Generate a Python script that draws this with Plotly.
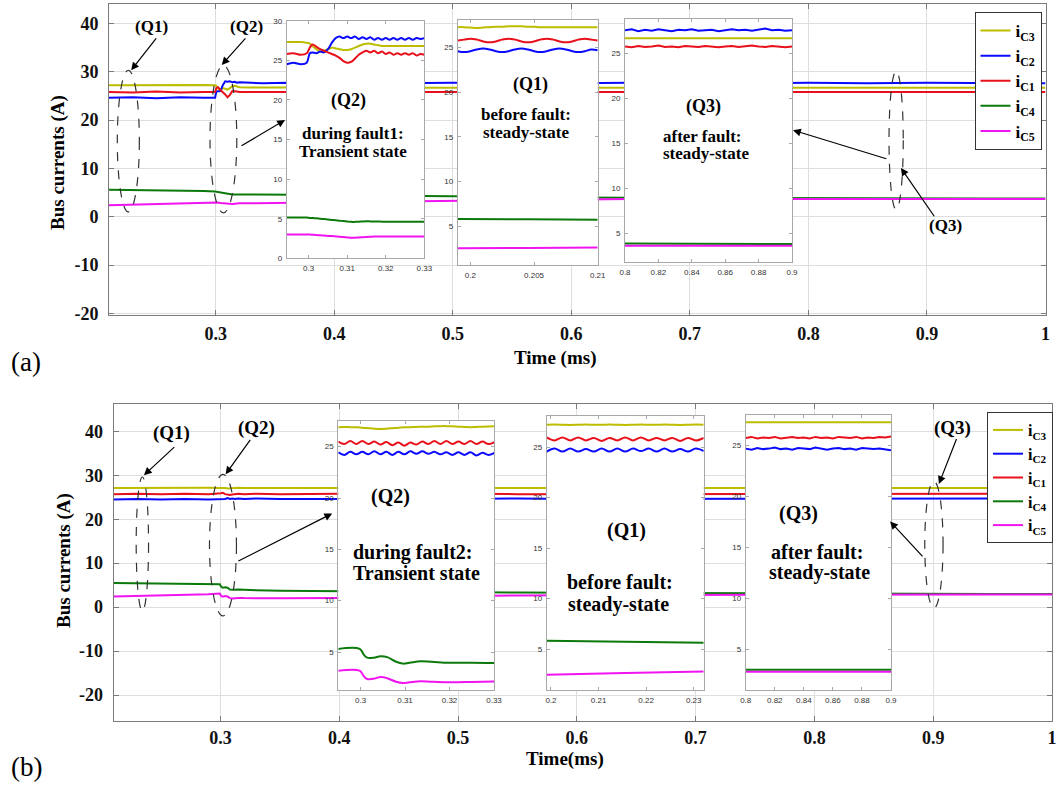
import plotly.graph_objects as go

W, H = 1059, 789

# ---------------- data ----------------
names = ["i<sub>C3</sub>", "i<sub>C2</sub>", "i<sub>C1</sub>", "i<sub>C4</sub>", "i<sub>C5</sub>"]

# panel (a) main
t_main_a = [0.21, 0.23, 0.25, 0.27, 0.29, 0.2995, 0.3005, 0.302, 0.304, 0.306, 0.308, 0.310, 0.312, 0.314, 0.316,
            0.318, 0.32, 0.33, 0.34, 0.36, 0.38, 0.40, 0.45, 0.50, 0.55, 0.60, 0.65, 0.70, 0.75, 0.80, 0.85, 0.90,
            0.95, 1.0]
iC3_a = [27.2, 27.25, 27.2, 27.2, 27.25, 27.2, 27.1, 26.5, 26.2, 26.6, 26.4, 26.3, 26.6, 27.0, 27.1, 26.9, 26.8,
         26.75, 26.7, 26.75, 26.7, 26.7, 26.7, 26.75, 26.7, 26.7, 26.7, 26.75, 26.7, 26.7, 26.7, 26.75, 26.7, 26.7]
iC2_a = [24.6, 24.7, 24.5, 24.7, 24.6, 24.6, 25.9, 26.0, 26.0, 27.2, 28.0, 27.9, 28.0, 27.8, 27.9, 27.7, 27.8,
         27.7, 27.6, 27.7, 27.6, 27.7, 27.6, 27.7, 27.6, 27.6, 27.7, 27.6, 27.6, 27.7, 27.6, 27.7, 27.6, 27.6]
iC1_a = [25.8, 25.7, 25.9, 25.7, 25.8, 25.8, 26.6, 26.8, 26.2, 25.8, 25.3, 24.7, 25.2, 26.0, 26.0, 25.9, 25.8,
         25.8, 25.7, 25.8, 25.7, 25.8, 25.7, 25.8, 25.7, 25.8, 25.7, 25.7, 25.8, 25.7, 25.8, 25.7, 25.7, 25.8]
iC4_a = [5.6, 5.55, 5.5, 5.4, 5.3, 5.2, 5.15, 5.1, 5.0, 4.9, 4.8, 4.7, 4.6, 4.6, 4.6, 4.6, 4.6,
         4.6, 4.6, 4.55, 4.5, 4.5, 4.35, 4.2, 4.1, 4.0, 3.95, 3.9, 3.85, 3.8, 3.8, 3.8, 3.8, 3.8]
iC5_a = [2.4, 2.5, 2.6, 2.7, 2.9, 3.0, 3.0, 2.95, 2.85, 2.8, 2.7, 2.65, 2.6, 2.65, 2.7, 2.75, 2.8,
         2.8, 2.85, 2.9, 2.95, 3.0, 3.15, 3.3, 3.45, 3.6, 3.65, 3.7, 3.7, 3.65, 3.65, 3.65, 3.65, 3.65]

# panel (a) inset Q2 (during fault1)
t_q2a = [0.2943, 0.296, 0.298, 0.2995, 0.3003, 0.301, 0.302, 0.303, 0.304, 0.305, 0.306, 0.307, 0.308, 0.309,
         0.310, 0.311, 0.312, 0.313, 0.314, 0.315, 0.316, 0.317, 0.318, 0.319, 0.320, 0.321, 0.322, 0.323,
         0.324, 0.325, 0.326, 0.327, 0.328, 0.329, 0.330]
q2a_C3 = [27.3, 27.3, 27.3, 27.2, 27.1, 26.8, 26.4, 26.1, 26.2, 26.4, 26.6, 26.5, 26.4, 26.3, 26.3, 26.4, 26.6,
          26.8, 27.0, 27.1, 27.1, 27.0, 26.9, 26.8, 26.8, 26.8, 26.8, 26.8, 26.8, 26.8, 26.8, 26.8, 26.8, 26.8, 26.8]
q2a_C2 = [24.5, 24.7, 24.5, 24.7, 25.9, 26.0, 25.9, 26.1, 26.0, 26.4, 27.2, 27.8, 28.0, 27.8, 28.0, 27.8, 28.0,
          27.7, 27.9, 27.7, 27.9, 27.6, 27.8, 27.6, 27.8, 27.6, 27.8, 27.6, 27.8, 27.6, 27.8, 27.6, 27.8, 27.7, 27.8]
q2a_C1 = [25.8, 25.9, 25.7, 25.9, 26.6, 27.0, 26.7, 26.4, 26.2, 26.0, 25.8, 25.6, 25.3, 24.9, 24.7, 24.8, 25.2,
          25.7, 26.0, 26.2, 26.0, 26.2, 25.9, 26.1, 25.8, 26.0, 25.7, 25.9, 25.7, 25.9, 25.7, 25.9, 25.6, 25.8, 25.7]
q2a_C4 = [5.15, 5.15, 5.15, 5.15, 5.1, 5.1, 5.05, 5.0, 4.95, 4.9, 4.85, 4.8, 4.75, 4.7, 4.65, 4.6, 4.6,
          4.62, 4.65, 4.67, 4.66, 4.65, 4.64, 4.63, 4.62, 4.61, 4.6, 4.6, 4.6, 4.6, 4.6, 4.6, 4.6, 4.6, 4.6]
q2a_C5 = [3.0, 3.0, 3.0, 3.0, 3.0, 2.98, 2.95, 2.9, 2.87, 2.83, 2.8, 2.76, 2.72, 2.68, 2.64, 2.6, 2.6,
          2.63, 2.67, 2.7, 2.72, 2.74, 2.75, 2.75, 2.75, 2.75, 2.75, 2.75, 2.75, 2.75, 2.75, 2.75, 2.75, 2.75, 2.75]

# panel (a) inset Q1 (before fault)
t_q1a = [0.199, 0.1995, 0.2, 0.2005, 0.201, 0.2015, 0.202, 0.2025, 0.203, 0.2035, 0.204, 0.2045, 0.205, 0.2055,
         0.206, 0.2065, 0.207, 0.2075, 0.208, 0.2085, 0.209, 0.2095, 0.21]
q1a_C3 = [27.3, 27.3, 27.25, 27.2, 27.25, 27.3, 27.35, 27.35, 27.4, 27.4, 27.4, 27.35, 27.35, 27.3, 27.3, 27.3,
          27.3, 27.3, 27.3, 27.3, 27.3, 27.3, 27.3]
q1a_C2 = [24.6, 24.5, 24.6, 24.8, 24.9, 24.8, 24.6, 24.5, 24.6, 24.8, 24.9, 24.8, 24.6, 24.5, 24.6, 24.8, 24.9,
          24.8, 24.6, 24.5, 24.6, 24.8, 24.7]
q1a_C1 = [25.8, 25.9, 26.0, 25.9, 25.7, 25.6, 25.7, 25.9, 26.0, 25.9, 25.7, 25.6, 25.7, 25.9, 26.0, 25.9, 25.7,
          25.6, 25.7, 25.9, 26.0, 25.9, 25.8]
t_q1a_low = [0.199, 0.2045, 0.21]
q1a_C4 = [5.8, 5.75, 5.7]
q1a_C5 = [2.5, 2.55, 2.6]

# panel (a) inset Q3 (after fault)
t_q3a = [0.8, 0.804, 0.808, 0.812, 0.816, 0.82, 0.824, 0.828, 0.832, 0.836, 0.84, 0.844, 0.848, 0.852, 0.856,
         0.86, 0.864, 0.868, 0.872, 0.876, 0.88, 0.884, 0.888, 0.892, 0.896, 0.9]
q3a_C3 = [26.7, 26.72, 26.68, 26.7, 26.72, 26.7, 26.68, 26.7, 26.7, 26.72, 26.7, 26.68, 26.7, 26.72, 26.7, 26.7,
          26.68, 26.7, 26.72, 26.7, 26.7, 26.68, 26.7, 26.72, 26.7, 26.7]
q3a_C2 = [27.6, 27.7, 27.5, 27.65, 27.55, 27.7, 27.6, 27.5, 27.65, 27.6, 27.7, 27.55, 27.6, 27.65, 27.5, 27.6,
          27.7, 27.6, 27.65, 27.55, 27.7, 27.8, 27.6, 27.65, 27.55, 27.6]
q3a_C1 = [25.8, 25.7, 25.85, 25.75, 25.8, 25.9, 25.75, 25.8, 25.7, 25.85, 25.8, 25.75, 25.85, 25.8, 25.7, 25.8,
          25.85, 25.75, 25.8, 25.9, 25.8, 25.75, 25.85, 25.8, 25.7, 25.8]
t_q3a_low = [0.8, 0.85, 0.9]
q3a_C4 = [3.85, 3.82, 3.8]
q3a_C5 = [3.62, 3.62, 3.62]

# panel (b) main
t_main_b = [0.21, 0.23, 0.25, 0.27, 0.29, 0.2995, 0.3005, 0.302, 0.304, 0.306, 0.308, 0.310, 0.312, 0.315, 0.32,
            0.33, 0.35, 0.40, 0.45, 0.50, 0.55, 0.60, 0.65, 0.70, 0.75, 0.80, 0.85, 0.90, 0.95, 1.0]
iC3_b = [27.1, 27.15, 27.1, 27.1, 27.15, 27.1, 27.1, 27.2, 27.1, 27.0, 27.05, 27.1, 27.1, 27.15, 27.1, 27.1, 27.15,
         27.1, 27.1, 27.15, 27.1, 27.1, 27.15, 27.1, 27.1, 27.15, 27.1, 27.1, 27.15, 27.1]
iC2_b = [24.5, 24.6, 24.5, 24.6, 24.5, 24.6, 24.6, 24.7, 24.6, 24.8, 24.6, 24.7, 24.6, 24.7, 24.6, 24.7, 24.6,
         24.6, 24.7, 24.6, 24.7, 24.6, 24.6, 24.7, 24.6, 24.6, 24.7, 24.6, 24.6, 24.7]
iC1_b = [25.7, 25.8, 25.7, 25.8, 25.7, 25.8, 25.9, 26.0, 25.7, 25.6, 25.5, 25.6, 25.7, 25.8, 25.7, 25.8, 25.7,
         25.8, 25.7, 25.8, 25.7, 25.7, 25.8, 25.7, 25.8, 25.7, 25.7, 25.8, 25.7, 25.8]
iC4_b = [5.5, 5.45, 5.4, 5.35, 5.25, 5.2, 4.7, 4.4, 4.5, 4.4, 4.0, 3.9, 3.95, 4.0, 3.9, 3.85, 3.75, 3.6,
         3.5, 3.4, 3.3, 3.25, 3.2, 3.1, 3.05, 3.0, 3.0, 3.0, 3.0, 3.0]
iC5_b = [2.4, 2.5, 2.65, 2.8, 2.95, 3.1, 2.6, 2.35, 2.5, 2.4, 2.05, 1.95, 2.05, 2.1, 2.05, 2.0, 2.0, 2.05,
         2.3, 2.55, 2.65, 2.7, 2.75, 2.8, 2.85, 2.85, 2.9, 2.9, 2.9, 2.9]

# panel (b) inset Q2 (during fault2)
t_q2b = [0.295, 0.29635, 0.2977, 0.29905, 0.3004, 0.30175, 0.3031, 0.30445, 0.3058, 0.30715, 0.3085, 0.30985,
         0.3112, 0.31255, 0.3139, 0.31525, 0.3166, 0.31795, 0.3193, 0.32065, 0.322, 0.32335, 0.3247, 0.32605,
         0.3274, 0.32875, 0.3301]
q2b_C3 = [26.9, 26.92, 26.9, 26.88, 26.85, 26.8, 26.75, 26.72, 26.75, 26.8, 26.85, 26.88, 26.9, 26.92, 26.95,
          26.95, 26.98, 27.0, 27.0, 26.98, 26.95, 26.92, 26.9, 26.92, 26.95, 26.97, 26.98]
q2b_C2 = [24.45, 24.2, 24.5, 24.25, 24.5, 24.25, 24.55, 24.25, 24.5, 24.2, 24.5, 24.25, 24.55, 24.3, 24.55, 24.3,
          24.5, 24.25, 24.45, 24.2, 24.45, 24.2, 24.45, 24.15, 24.4, 24.2, 24.4]
q2b_C1 = [25.5, 25.25, 25.55, 25.25, 25.55, 25.25, 25.5, 25.2, 25.45, 25.15, 25.4, 25.1, 25.4, 25.2, 25.5, 25.25,
          25.55, 25.25, 25.55, 25.25, 25.5, 25.25, 25.55, 25.25, 25.5, 25.25, 25.45]
t_q2b_low = [0.295, 0.2998, 0.3008, 0.3015, 0.303, 0.3045, 0.306, 0.308, 0.3095, 0.311, 0.3135, 0.316, 0.32,
             0.325, 0.33]
q2b_C4 = [5.3, 5.3, 4.7, 4.45, 4.45, 4.58, 4.5, 4.05, 3.87, 3.95, 4.1, 4.05, 3.95, 3.95, 3.92]
q2b_C5 = [3.18, 3.18, 2.6, 2.37, 2.4, 2.57, 2.45, 2.1, 1.98, 2.05, 2.15, 2.1, 2.05, 2.08, 2.12]

# panel (b) inset Q1 (before fault)
t_q1b = [0.1991, 0.20075, 0.2024, 0.20405, 0.2057, 0.20735, 0.209, 0.21065, 0.2123, 0.21395, 0.2156, 0.21725,
         0.2189, 0.22055, 0.2222, 0.22385, 0.2255, 0.22715, 0.2288, 0.23045, 0.2321]
q1b_C3 = [27.2, 27.22, 27.2, 27.18, 27.2, 27.22, 27.2, 27.2, 27.22, 27.2, 27.18, 27.2, 27.22, 27.2, 27.2, 27.22,
          27.2, 27.18, 27.2, 27.22, 27.2]
q1b_C2 = [24.55, 24.85, 24.55, 24.85, 24.55, 24.8, 24.55, 24.85, 24.55, 24.85, 24.55, 24.85, 24.6, 24.85, 24.55,
          24.85, 24.55, 24.8, 24.55, 24.85, 24.6]
q1b_C1 = [25.95, 25.65, 25.95, 25.65, 25.95, 25.65, 25.9, 25.6, 25.9, 25.65, 25.95, 25.65, 25.95, 25.65, 25.9,
          25.65, 25.9, 25.6, 25.9, 25.65, 25.9]
t_q1b_low = [0.1991, 0.2156, 0.2321]
q1b_C4 = [5.82, 5.72, 5.62]
q1b_C5 = [2.45, 2.62, 2.78]

# panel (b) inset Q3 (after fault)
t_q3b = [0.8, 0.804, 0.808, 0.812, 0.816, 0.82, 0.824, 0.828, 0.832, 0.836, 0.84, 0.844, 0.848, 0.852, 0.856,
         0.86, 0.864, 0.868, 0.872, 0.876, 0.88, 0.884, 0.888, 0.892, 0.896, 0.9]
q3b_C3 = [27.3, 27.32, 27.28, 27.3, 27.3, 27.32, 27.3, 27.28, 27.3, 27.32, 27.3, 27.3, 27.28, 27.3, 27.32, 27.3,
          27.3, 27.28, 27.3, 27.32, 27.3, 27.3, 27.28, 27.3, 27.32, 27.3]
q3b_C2 = [24.7, 24.6, 24.75, 24.65, 24.7, 24.8, 24.65, 24.7, 24.6, 24.75, 24.7, 24.65, 24.8, 24.7, 24.6, 24.7,
          24.75, 24.65, 24.7, 24.6, 24.75, 24.7, 24.65, 24.7, 24.6, 24.55]
q3b_C1 = [25.75, 25.85, 25.7, 25.8, 25.75, 25.85, 25.7, 25.8, 25.85, 25.75, 25.8, 25.7, 25.85, 25.75, 25.8, 25.7,
          25.85, 25.8, 25.75, 25.85, 25.7, 25.8, 25.75, 25.85, 25.8, 25.9]
t_q3b_low = [0.8, 0.85, 0.9]
q3b_C4 = [3.0, 2.98, 2.98]
q3b_C5 = [2.78, 2.78, 2.8]

main_x_ticks = [0.3, 0.4, 0.5, 0.6, 0.7, 0.8, 0.9, 1.0]
main_x_text = ["0.3", "0.4", "0.5", "0.6", "0.7", "0.8", "0.9", "1"]
main_y_ticks = [-20, -10, 0, 10, 20, 30, 40]
main_y_text = ["-20", "-10", "0", "10", "20", "30", "40"]

# ---------------- style ----------------
colors = ["#bdbd00", "#0a0aff", "#e8101a", "#0b7a0b", "#f014f0"]
SERIF = "Liberation Serif"


def dx(p0, p1):
    return [p0 / W, p1 / W]


def dy(top, bot):
    return [1 - bot / H, 1 - top / H]


fig = go.Figure()

panels = [
    ("", [t_main_a] * 5, [iC3_a, iC2_a, iC1_a, iC4_a, iC5_a], "linear", "legend"),
    ("2", [t_q2a] * 5, [q2a_C3, q2a_C2, q2a_C1, q2a_C4, q2a_C5], "spline", None),
    ("3", [t_q1a] * 3 + [t_q1a_low] * 2, [q1a_C3, q1a_C2, q1a_C1, q1a_C4, q1a_C5], "spline", None),
    ("4", [t_q3a] * 3 + [t_q3a_low] * 2, [q3a_C3, q3a_C2, q3a_C1, q3a_C4, q3a_C5], "linear", None),
    ("5", [t_main_b] * 5, [iC3_b, iC2_b, iC1_b, iC4_b, iC5_b], "linear", "legend2"),
    ("6", [t_q2b] * 3 + [t_q2b_low] * 2, [q2b_C3, q2b_C2, q2b_C1, q2b_C4, q2b_C5], "spline", None),
    ("7", [t_q1b] * 3 + [t_q1b_low] * 2, [q1b_C3, q1b_C2, q1b_C1, q1b_C4, q1b_C5], "spline", None),
    ("8", [t_q3b] * 3 + [t_q3b_low] * 2, [q3b_C3, q3b_C2, q3b_C1, q3b_C4, q3b_C5], "linear", None),
]

for suf, xs, ys, shape, leg in panels:
    for k in range(5):
        fig.add_trace(go.Scatter(
            x=xs[k], y=ys[k], mode="lines", name=names[k],
            line=dict(color=colors[k], width=2, shape=shape),
            xaxis="x" + suf, yaxis="y" + suf,
            showlegend=leg is not None, legend=leg if leg else "legend",
            hoverinfo="skip"))

main_common = dict(showline=True, linecolor="#7a7a7a", linewidth=1, mirror="ticks", ticks="inside", ticklen=5,
                   tickcolor="#7a7a7a", showgrid=True, gridcolor="#dedede", gridwidth=1, zeroline=False,
                   automargin=False, tickmode="array",
                   tickfont=dict(family=SERIF, size=18, color="#111111", weight="bold"))
ins_common = dict(showline=True, linecolor="#a8a8a8", linewidth=1, mirror="ticks", ticks="inside", ticklen=3,
                  tickcolor="#a8a8a8", showgrid=False, zeroline=False, automargin=False, tickmode="array",
                  tickfont=dict(family="Liberation Sans", size=8, color="#333333"), ticklabelstandoff=2)

layout = dict(
    width=W, height=H, margin=dict(l=0, r=0, t=0, b=0),
    paper_bgcolor="white", plot_bgcolor="white", showlegend=True,
    # (a) main
    xaxis=dict(main_common, domain=dx(109, 1045.5), range=[0.21, 1.0], tickvals=main_x_ticks,
               ticktext=main_x_text, anchor="y", ticklabelstandoff=2),
    yaxis=dict(main_common, domain=dy(3.5, 315.4), range=[-20.4, 44.1], tickvals=main_y_ticks,
               ticktext=main_y_text, anchor="x", ticklabelstandoff=6),
    # (a) insets
    xaxis2=dict(ins_common, domain=dx(286.7, 424.3), range=[0.2943, 0.33], tickvals=[0.3, 0.31, 0.32, 0.33],
                anchor="y2"),
    yaxis2=dict(ins_common, domain=dy(20.7, 258.3), range=[0, 30], tickvals=[0, 5, 10, 15, 20, 25, 30],
                anchor="x2"),
    xaxis3=dict(ins_common, domain=dx(457.7, 597.7), range=[0.199, 0.21], tickvals=[0.2, 0.205, 0.21],
                anchor="y3"),
    yaxis3=dict(ins_common, domain=dy(20, 265), range=[0.63, 28.1], tickvals=[5, 10, 15, 20, 25], anchor="x3"),
    xaxis4=dict(ins_common, domain=dx(625, 792), range=[0.8, 0.9],
                tickvals=[0.8, 0.82, 0.84, 0.86, 0.88, 0.9], anchor="y4"),
    yaxis4=dict(ins_common, domain=dy(18.6, 262), range=[1.8, 28.9], tickvals=[5, 10, 15, 20, 25], anchor="x4"),
    # (b) main
    xaxis5=dict(main_common, domain=dx(113.5, 1052), range=[0.21, 1.0], tickvals=main_x_ticks,
                ticktext=main_x_text, anchor="y5", ticklabelstandoff=0),
    yaxis5=dict(main_common, domain=dy(404, 721), range=[-25.9, 46.2], tickvals=main_y_ticks,
                ticktext=main_y_text, anchor="x5", ticklabelstandoff=6),
    # (b) insets
    xaxis6=dict(ins_common, domain=dx(338.3, 494), range=[0.295, 0.33], tickvals=[0.3, 0.31, 0.32, 0.33],
                anchor="y6"),
    yaxis6=dict(ins_common, domain=dy(421, 690), range=[1.3, 27.5], tickvals=[5, 10, 15, 20, 25], anchor="x6"),
    xaxis7=dict(ins_common, domain=dx(546.7, 703.7), range=[0.1991, 0.2321], tickvals=[0.2, 0.21, 0.22, 0.23],
                anchor="y7"),
    yaxis7=dict(ins_common, domain=dy(415.7, 690), range=[0.94, 28.1], tickvals=[5, 10, 15, 20, 25], anchor="x7"),
    xaxis8=dict(ins_common, domain=dx(745.7, 891), range=[0.8, 0.9],
                tickvals=[0.8, 0.82, 0.84, 0.86, 0.88, 0.9], anchor="y8"),
    yaxis8=dict(ins_common, domain=dy(415, 690), range=[1.0, 28.0], tickvals=[5, 10, 15, 20, 25], anchor="x8"),
    legend=dict(x=1008 / W, y=1 - 12 / H, xanchor="center", yanchor="top", bgcolor="white",
                bordercolor="#333333", borderwidth=1, itemwidth=30,
                font=dict(family=SERIF, size=17, color="black", weight="bold")),
    legend2=dict(x=1020 / W, y=1 - 412 / H, xanchor="center", yanchor="top", bgcolor="white",
                 bordercolor="#333333", borderwidth=1, itemwidth=30,
                 font=dict(family=SERIF, size=16, color="black", weight="bold")),
)
fig.update_layout(**layout)

# ---------------- annotations ----------------
ann = []


def ptext(px, py, text, size, bold=True, angle=0):
    ann.append(dict(x=px / W, y=1 - py / H, xref="paper", yref="paper", text=text, showarrow=False,
                    xanchor="center", yanchor="middle", textangle=angle,
                    font=dict(family=SERIF, size=size, color="black", weight="bold" if bold else "normal")))


def dtext(x, y, ax_suffix, text, size):
    ann.append(dict(x=x, y=y, xref="x" + ax_suffix, yref="y" + ax_suffix, text=text, showarrow=False,
                    xanchor="center", yanchor="middle",
                    font=dict(family=SERIF, size=size, color="black", weight="bold")))


def arrow(tx, ty, hx, hy, ax_suffix):
    xr, yr = "x" + ax_suffix, "y" + ax_suffix
    ann.append(dict(x=hx, y=hy, ax=tx, ay=ty, xref=xr, yref=yr, axref=xr, ayref=yr, text="", showarrow=True,
                    arrowhead=2, arrowsize=1.3, arrowwidth=1.2, arrowcolor="black", standoff=0, startstandoff=0))


# axis titles and panel labels
ptext(58, 163, "Bus currents (A)", 19, angle=-90)
ptext(64, 561, "Bus currents (A)", 19, angle=-90)
ptext(555, 358, "Time (ms)", 19)
ptext(565, 759, "Time(ms)", 19)
ptext(26, 362, "(a)", 27, bold=False)
ptext(26, 767, "(b)", 27, bold=False)

# inset texts (a)
ptext(348, 100, "(Q2)", 18)
ptext(353, 133.3, "during fault1:", 17)
ptext(353, 151.7, "Transient state", 17)
ptext(530.7, 84, "(Q1)", 18)
ptext(526, 115, "before fault:", 17)
ptext(526, 132.7, "steady-state", 17)
ptext(703.3, 106.7, "(Q3)", 18)
ptext(702, 136, "after fault:", 17)
ptext(705.5, 153.3, "steady-state", 17)
# inset texts (b)
ptext(390, 496.7, "(Q2)", 20)
ptext(412, 552.7, "during fault2:", 20)
ptext(416, 573.3, "Transient state", 20)
ptext(626.7, 530, "(Q1)", 20)
ptext(620, 582.3, "before fault:", 20)
ptext(618, 604.2, "steady-state", 20)
ptext(798.3, 513.3, "(Q3)", 20)
ptext(817, 551.7, "after fault:", 20)
ptext(819, 572.3, "steady-state", 20)

# labels and arrows, panel (a)
dtext(0.246, 39.3, "", "(Q1)", 17)
dtext(0.3262, 39.3, "", "(Q2)", 17)
dtext(0.9155, -1.9, "", "(Q3)", 17)
arrow(0.2508, 37.2, 0.2287, 30.3, "")
arrow(0.3262, 37.2, 0.3051, 31.4, "")
arrow(0.3205, 14.5, 0.3585, 20.0, "")
arrow(0.867, 11.9, 0.787, 17.9, "")
arrow(0.907, -0.2, 0.878, 10.1, "")
# labels and arrows, panel (b)
dtext(0.2588, 39.7, "5", "(Q1)", 19)
dtext(0.3301, 40.7, "5", "(Q2)", 19)
dtext(0.916, 40.7, "5", "(Q3)", 19)
arrow(0.2624, 36.7, 0.2356, 30.0, "5")
arrow(0.326, 38.4, 0.3044, 30.2, "5")
arrow(0.3139, 10.3, 0.3941, 21.3, "5")
arrow(0.9201, 38.6, 0.9048, 28.0, "5")
arrow(0.8922, 11.2, 0.8637, 19.5, "5")

fig.update_layout(annotations=ann)

# dashed ellipses around the zoomed regions
ellipses = [
    ("", 0.217, 0.2356, 1.0, 30.3),
    ("", 0.2952, 0.3178, 0.8, 31.3),
    ("", 0.868, 0.880, 1.5, 30.1),
    ("5", 0.2291, 0.2395, -0.9, 29.6),
    ("5", 0.2908, 0.3135, -2.0, 30.2),
    ("5", 0.8929, 0.9083, -0.2, 28.6),
]
for suf, x0, x1, y0, y1 in ellipses:
    fig.add_shape(type="circle", xref="x" + suf, yref="y" + suf, x0=x0, x1=x1, y0=y0, y1=y1,
                  line=dict(color="#333333", width=1.2, dash="dash"))

fig.write_html("out.html")
